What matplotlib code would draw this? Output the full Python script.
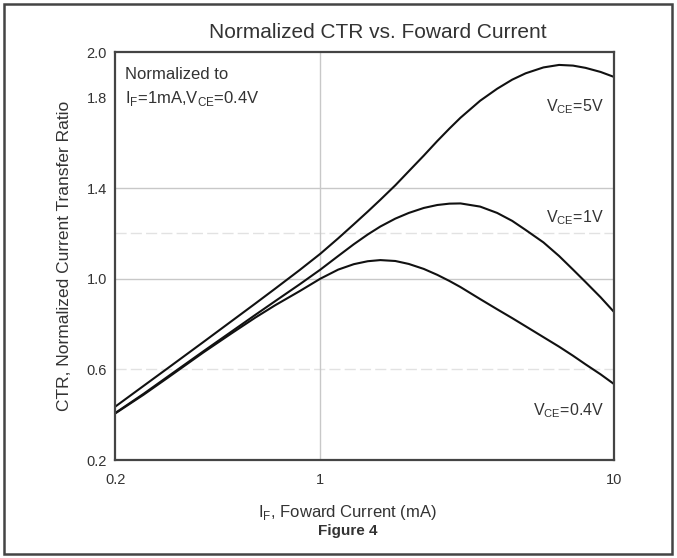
import matplotlib.pyplot as plt
from matplotlib.patches import Rectangle
from matplotlib.ticker import FixedLocator, FixedFormatter, NullLocator

plt.rcParams["font.family"] = ["Liberation Sans", "DejaVu Sans"]
plt.rcParams["mathtext.fontset"] = "custom"
plt.rcParams["mathtext.rm"] = "Liberation Sans"

# forward current (mA) and normalized CTR
current = [0.2, 0.25, 0.3, 0.4, 0.5, 0.6, 0.7, 0.85, 1.0, 1.15, 1.3, 1.45, 1.6, 1.8,
           2.0, 2.25, 2.5, 2.75, 3.0, 3.5, 4.0, 4.5, 5.0, 5.75, 6.5, 7.25, 8.0, 9.0, 10.0]
ctr_5v = [0.435, 0.527, 0.602, 0.721, 0.814, 0.89, 0.955, 1.038, 1.11, 1.178, 1.24,
          1.296, 1.348, 1.412, 1.474, 1.543, 1.607, 1.662, 1.71, 1.785, 1.838, 1.878,
          1.906, 1.932, 1.943, 1.94, 1.93, 1.912, 1.89]
ctr_1v = [0.407, 0.492, 0.565, 0.68, 0.768, 0.84, 0.90, 0.975, 1.04, 1.10, 1.152,
          1.195, 1.23, 1.265, 1.29, 1.312, 1.325, 1.331, 1.332, 1.318, 1.29, 1.255,
          1.215, 1.16, 1.10, 1.04, 0.985, 0.918, 0.853]
ctr_04v = [0.405, 0.488, 0.56, 0.675, 0.76, 0.828, 0.882, 0.945, 1.0, 1.04, 1.064,
           1.077, 1.082, 1.078, 1.065, 1.043, 1.017, 0.99, 0.963, 0.91, 0.865, 0.826,
           0.79, 0.742, 0.70, 0.66, 0.622, 0.578, 0.535]

y_ticks = [0.2, 0.6, 1.0, 1.4, 1.8, 2.0]
x_ticks = [0.2, 1, 10]
x_labels = ["0.2", "1", "10"]

txt = "#333333"

fig = plt.figure(figsize=(6.77, 5.58), dpi=100)
fig.patches.append(Rectangle((0.006, 0.008), 0.986, 0.984, transform=fig.transFigure,
                             fill=False, edgecolor="#444444", linewidth=1.8))
ax = fig.add_axes([0.170, 0.1756, 0.737, 0.7312])

# grid
for y in [1.0, 1.4]:
    ax.axhline(y, color="#c8c8c8", lw=1.0, zorder=0)
for y in [0.6, 1.2]:
    ax.axhline(y, color="#e2e2e2", lw=1.0, ls=(0, (8, 3)), zorder=0)
ax.axvline(1, color="#c8c8c8", lw=1.0, zorder=0)

ax.plot(current, ctr_5v, color="#111111", lw=1.5)
ax.plot(current, ctr_1v, color="#111111", lw=1.5)
ax.plot(current, ctr_04v, color="#111111", lw=1.5)

ax.set_xscale("log")
ax.set_xlim(0.2, 10)
ax.set_ylim(0.2, 2.0)
ax.xaxis.set_major_locator(FixedLocator(x_ticks))
ax.xaxis.set_major_formatter(FixedFormatter(x_labels))
ax.xaxis.set_minor_locator(NullLocator())
ax.set_yticks(y_ticks)
ax.set_yticklabels([f"{v:.1f}" for v in y_ticks])
ax.tick_params(length=0, labelsize=10.5, colors=txt)
ax.tick_params(axis="x", pad=9)
ax.tick_params(axis="y", pad=6)
for s in ax.spines.values():
    s.set_color("#444444")
    s.set_linewidth(1.6)

fig.text(0.558, 0.941, "Normalized CTR vs. Foward Current", fontsize=15, color=txt,
         ha="center", va="center")
ax.set_ylabel("CTR, Normalized Current Transfer Ratio", fontsize=12.5, color=txt, labelpad=10)
ax.set_xlabel(r"I$_\mathregular{F}$, Foward Current (mA)", fontsize=12, color=txt, labelpad=12)
ax.xaxis.set_label_coords(0.466, -0.105)
fig.text(0.513, 0.048, "Figure 4", fontsize=11, fontweight="bold", color=txt, ha="center", va="center")

ax.text(0.02, 0.945, "Normalized to", transform=ax.transAxes, fontsize=12, color=txt, va="center")
ax.text(0.02, 0.885, r"I$_\mathregular{F}$=1mA,V$_\mathregular{CE}$=0.4V",
        transform=ax.transAxes, fontsize=12, color=txt, va="center")
ax.text(0.98, 0.865, r"V$_\mathregular{CE}$=5V", transform=ax.transAxes, fontsize=11.5,
        color=txt, ha="right", va="center")
ax.text(0.98, 0.595, r"V$_\mathregular{CE}$=1V", transform=ax.transAxes, fontsize=11.5,
        color=txt, ha="right", va="center")
ax.text(0.98, 0.12, r"V$_\mathregular{CE}$=0.4V", transform=ax.transAxes, fontsize=11.5,
        color=txt, ha="right", va="center")

fig.savefig("out.png", dpi=100)
